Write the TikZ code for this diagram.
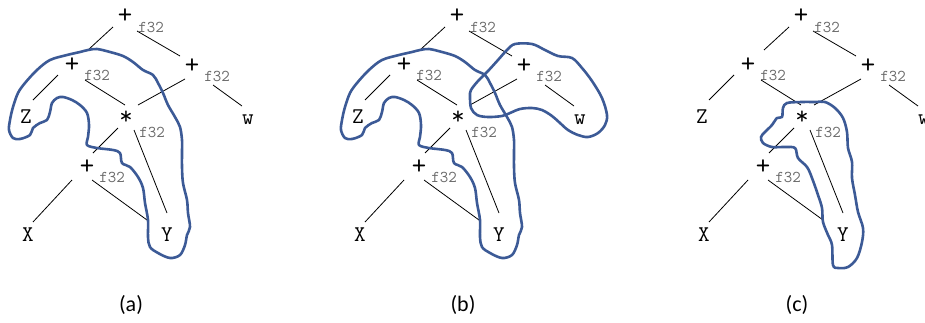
\documentclass[tikz,border=0pt]{standalone}
\usepackage{fontspec}
\setmainfont{Carlito}
\usetikzlibrary{calc}
\definecolor{blobblue}{RGB}{60,90,150}
\definecolor{subgray}{RGB}{105,105,105}
\begin{document}
\begin{tikzpicture}[x=1pt,y=-1pt,
  opnode/.style={inner sep=0pt, font=\ttfamily\fontsize{28}{28}\selectfont},
  starnode/.style={inner sep=0pt, font=\ttfamily\fontsize{26}{26}\selectfont},
  leafnode/.style={inner sep=0pt, font=\ttfamily\fontsize{22.5}{22.5}\selectfont},
  subnode/.style={inner sep=0pt, text=subgray, font=\ttfamily\fontsize{16.5}{16.5}\selectfont},
  edgeline/.style={draw=black, line width=0.8pt},
  blobline/.style={draw=blobblue, line width=2.6pt, line join=round},
  panellabel/.style={inner sep=0pt, font=\fontsize{22}{22}\selectfont}
]
\useasboundingbox (0,0) rectangle (925,322);
\foreach \p/\ox in {a/0,b/332,c/676}{
\begin{scope}[xshift=\ox]
  \node[opnode] (\p T) at (125,16) {+};
  \node[subnode] (\p Tt) at (151,27) {f32};
  \node[opnode] (\p L) at (72,65) {+};
  \node[subnode] (\p Lt) at (97,75) {f32};
  \node[opnode] (\p R) at (192,66) {+};
  \node[subnode] (\p Rt) at (217,76) {f32};
  \node[starnode] (\p S) at (126,118) {*};
  \node[subnode] (\p St) at (152,132) {f32};
  \node[opnode] (\p P) at (87,167) {+};
  \node[subnode] (\p Pt) at (112,177) {f32};
  \node[leafnode] (\p Z) at (26,117) {Z};
  \node[leafnode] (\p W) at (248,120) {w};
  \node[leafnode] (\p X) at (28,235) {X};
  \node[leafnode] (\p Y) at (167,235) {Y};
  \draw[edgeline] ($(\p T)+(-12,11)$) -- ($(\p L)+(16,-15)$);
  \draw[edgeline] ($(\p T)+(12,15)$) -- ($(\p R)+(-12,-10)$);
  \draw[edgeline] ($(\p L)+(-14,10)$) -- ($(\p Z)+(7,-17)$);
  \draw[edgeline] ($(\p L)+(13,15)$) -- ($(\p S)+(-1,-13)$);
  \draw[edgeline] ($(\p R)+(-7,13)$) -- ($(\p S)+(12,-13)$);
  \draw[edgeline] ($(\p R)+(21,19)$) -- ($(\p W)+(-6,-14)$);
  \draw[edgeline] ($(\p S)+(-8,10)$) -- ($(\p P)+(6,-14)$);
  \draw[edgeline] ($(\p S)+(8,12)$) -- ($(\p Y)+(0,-22)$);
  \draw[edgeline] ($(\p P)+(-15,13)$) -- ($(\p X)+(5,-13)$);
  \draw[edgeline] ($(\p P)+(5,13)$) -- ($(\p Y)+(-20,-15)$);
\end{scope}
}
\node[panellabel] (capa) at (131,305) {(a)};
\node[panellabel] (capb) at (463,305) {(b)};
\node[panellabel] (capc) at (797,305) {(c)};
% blobs
\foreach \ox in {0,332}{
\draw[blobline,xshift=\ox] plot[smooth cycle, tension=0.55] coordinates {
(88,50) (97,49) (110,52) (123,56) (133,62) (143,70) (153,75) (158,83) (163,93) (168,105) (175,117) (180,127) (182,140) (182,152) (182,167) (183,183) (187,200) (188,213) (190,227) (187,235) (185,245) (180,255) (170,258) (158,253) (150,247) (148,237) (148,220) (145,203) (143,188) (138,177) (130,167) (122,163) (120,153) (113,150) (97,148) (87,145) (88,137) (89,125) (87,113) (80,105) (72,100) (63,97) (57,98) (52,103) (50,112) (47,120) (40,123) (33,128) (30,135) (20,139) (13,138) (9,130) (10,120) (13,107) (18,93) (25,83) (37,70) (50,60) (67,55) (80,52)};
}
\draw[blobline] plot[smooth cycle, tension=0.55] coordinates {
(515,44) (532,44) (545,50) (558,56) (572,58) (582,68) (592,81) (602,98) (607,115) (605,125) (598,133) (588,137) (578,135) (568,130) (560,123) (552,116) (542,110) (532,108) (520,109) (510,113) (502,116) (488,117) (477,115) (471,108) (470,96) (471,90) (478,81) (488,71) (498,60) (507,50)};
\draw[blobline] plot[smooth cycle, tension=0.55] coordinates {
(787,103) (802,102) (815,102) (825,102) (835,108) (843,118) (847,132) (848,148) (852,162) (852,178) (855,195) (858,212) (863,228) (862,242) (857,258) (848,267) (838,268) (833,265) (832,245) (828,235) (823,222) (822,208) (818,195) (812,178) (807,167) (798,158) (795,148) (785,147) (772,147) (763,143) (761,137) (765,132) (772,125) (777,118) (782,117) (783,108)};
\end{tikzpicture}
\end{document}
